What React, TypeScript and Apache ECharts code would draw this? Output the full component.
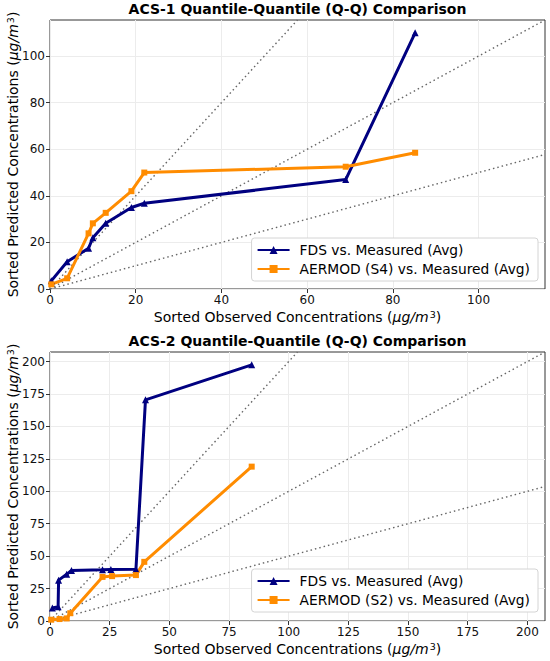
import React, { useEffect, useRef } from "react";
import * as echarts from "echarts";

// ---- ACS-1 ----
const obs1 = [0.3, 4, 9, 10, 13, 19, 22, 69, 85.2];
const fds1 = [3.5, 11.7, 17.5, 22, 28.2, 35, 36.8, 47, 110];
const aer1 = [2, 4.6, 23.9, 28.2, 32.7, 42, 50, 52.5, 58.5];
const ticks1 = [0, 20, 40, 60, 80, 100];

// ---- ACS-2 ----
const obs2 = [1, 3.4, 3.6, 7, 9, 22, 25.5, 36, 40, 84.5];
const fds2 = [10, 11, 31.5, 36, 39, 39.5, 39.7, 39.8, 170.5, 197.5];
const obs2a = [0.5, 4, 7, 8.5, 22, 26, 36, 39.5, 84.5];
const aer2 = [1, 1.5, 2, 6, 34, 34.6, 35.4, 45.6, 119];
const ticks2 = [0, 25, 50, 75, 100, 125, 150, 175, 200];

const FDS = "FDS vs. Measured (Avg)";
const AER1 = "AERMOD (S4) vs. Measured (Avg)";
const AER2 = "AERMOD (S2) vs. Measured (Avg)";
const title1 = "ACS-1 Quantile-Quantile (Q-Q) Comparison";
const title2 = "ACS-2 Quantile-Quantile (Q-Q) Comparison";

const FONT = "DejaVu Sans";
const NAVY = "#000080";
const ORANGE = "#ff8c00";

const zip = (xs: number[], ys: number[]) => xs.map((x, i) => [x, ys[i]]);

export default function App() {
  const ref = useRef<HTMLDivElement>(null);
  useEffect(() => {
    if (!ref.current) return;
    const chart = echarts.init(ref.current, undefined, { renderer: "svg" });
    const max1 = Math.max(...obs1, ...fds1, ...aer1) * 1.05;
    const max2 = Math.max(...obs2, ...fds2, ...obs2a, ...aer2) * 1.05;

    const rich = {
      i: { fontStyle: "italic", fontSize: 14, fontFamily: FONT, color: "#000" },
      s: { fontSize: 9.5, fontFamily: FONT, color: "#000", verticalAlign: "top", padding: [0, 0, 5, 1] },
    };
    const xName = "Sorted Observed Concentrations ({i|μg/m}{s|3})";
    const yName = "Sorted Predicted Concentrations ({i|μg/m}{s|3})";

    const mkAxis = (idx: number, max: number, ticks: number[], isX: boolean) => ({
      type: "value",
      gridIndex: idx,
      min: 0,
      max,
      interval: ticks[1] - ticks[0],
      name: isX ? xName : yName,
      nameLocation: "middle",
      nameGap: isX ? 20 : 30,
      nameMoveOverlap: isX,
      nameTextStyle: { fontSize: 14, fontFamily: FONT, color: "#000", rich },
      axisLine: { show: false },
      axisTick: { show: true, length: 4, inside: false, customValues: ticks, lineStyle: { color: "#333", width: 1 } },
      axisLabel: {
        customValues: ticks,
        fontSize: 12,
        fontFamily: FONT,
        color: "#111",
        margin: 5,
        showMaxLabel: true,
      },
      splitLine: { show: true, lineStyle: { color: "#ececec", width: 1 } },
    });

    const refLines = (idx: number, max: number) =>
      [
        [[0, 0], [max / 2, max]],
        [[0, 0], [max, max]],
        [[0, 0], [max, max / 2]],
      ].map((d) => ({
        type: "line",
        xAxisIndex: idx,
        yAxisIndex: idx,
        data: d,
        symbol: "none",
        silent: true,
        z: 1,
        lineStyle: { color: "#666", width: 1.4, type: [1.5, 3] },
      }));

    const dataSeries = (idx: number, name: string, xs: number[], ys: number[], color: string, symbol: string, size: number) => ({
      type: "line",
      name,
      xAxisIndex: idx,
      yAxisIndex: idx,
      data: zip(xs, ys),
      symbol,
      symbolSize: size,
      showSymbol: true,
      z: 3,
      itemStyle: { color },
      lineStyle: { color, width: 3 },
    });

    const legend = (top: number, names: string[]) => ({
      orient: "vertical",
      right: 12,
      top,
      data: names,
      backgroundColor: "#fff",
      borderColor: "#d4d4d4",
      borderWidth: 1,
      borderRadius: 3,
      padding: [5, 8, 5, 5],
      itemGap: 5,
      itemWidth: 32,
      itemHeight: 10,
      textStyle: { fontSize: 13.8, fontFamily: FONT, color: "#000", padding: [0, 0, 0, 5] },
      selectedMode: false,
    });

    const gridBase = { left: 50, right: 5, height: 269, show: true, borderColor: "#333", borderWidth: 1, backgroundColor: "transparent", containLabel: false, outerBoundsMode: "none" };

    chart.setOption({
      animation: false,
      backgroundColor: "#fff",
      title: [
        { text: title1, left: 297.5, top: 2, textAlign: "center", padding: 0, textStyle: { fontSize: 14, fontWeight: "bold", fontFamily: FONT, color: "#000" } },
        { text: title2, left: 297.5, top: 334, textAlign: "center", padding: 0, textStyle: { fontSize: 14, fontWeight: "bold", fontFamily: FONT, color: "#000" } },
      ],
      grid: [
        { ...gridBase, top: 20 },
        { ...gridBase, top: 352 },
      ],
      xAxis: [mkAxis(0, max1, ticks1, true), mkAxis(1, max2, ticks2, true)],
      yAxis: [mkAxis(0, max1, ticks1, false), mkAxis(1, max2, ticks2, false)],
      legend: [legend(238, [FDS, AER1]), legend(569, [FDS, AER2])],
      series: [
        ...refLines(0, max1),
        ...refLines(1, max2),
        dataSeries(0, FDS, obs1, fds1, NAVY, "triangle", 7),
        dataSeries(0, AER1, obs1, aer1, ORANGE, "rect", 6),
        dataSeries(1, FDS, obs2, fds2, NAVY, "triangle", 7),
        dataSeries(1, AER2, obs2a, aer2, ORANGE, "rect", 6),
      ],
    });
    return () => chart.dispose();
  }, []);
  return <div ref={ref} style={{ position: "absolute", left: 0, top: 0, width: 550, height: 661 }} />;
}
